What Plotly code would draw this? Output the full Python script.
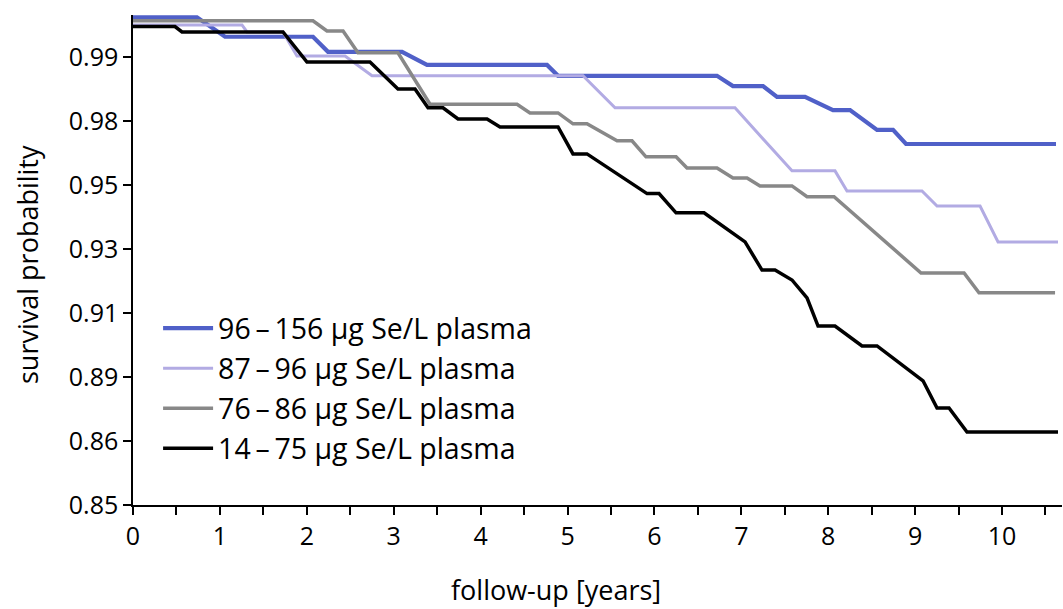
import plotly.graph_objects as go

# ---- data (years, survival on the chart's linear scale) ----
blue_t = [0, 0.736, 1.059, 2.071, 2.244, 3.096, 3.383, 4.764, 4.891, 6.720, 6.904, 7.250, 7.411, 7.733, 8.055, 8.251, 8.562, 8.746, 8.895, 10.621]
blue_s = [1.0024, 1.0024, 0.9963, 0.9963, 0.9916, 0.9916, 0.9875, 0.9875, 0.9841, 0.9841, 0.9809, 0.9809, 0.9775, 0.9775, 0.9734, 0.9734, 0.9672, 0.9672, 0.9628, 0.9628]

lilac_t = [0, 1.254, 1.312, 1.726, 1.887, 2.440, 2.750, 5.178, 5.547, 6.927, 7.583, 8.078, 8.216, 9.079, 9.252, 9.747, 9.954, 10.644]
lilac_s = [1.0000, 1.0000, 0.9978, 0.9978, 0.9903, 0.9903, 0.9841, 0.9841, 0.9741, 0.9741, 0.9544, 0.9544, 0.9481, 0.9481, 0.9434, 0.9434, 0.9322, 0.9322]

grey_t = [0, 2.071, 2.232, 2.417, 2.589, 3.049, 3.418, 4.419, 4.568, 4.891, 5.063, 5.224, 5.570, 5.742, 5.903, 6.249, 6.375, 6.720, 6.904, 7.066, 7.215, 7.583, 7.756, 8.067, 9.068, 9.563, 9.735, 10.610]
grey_s = [1.0013, 1.0013, 0.9981, 0.9981, 0.9913, 0.9913, 0.9752, 0.9752, 0.9725, 0.9725, 0.9691, 0.9691, 0.9638, 0.9638, 0.9588, 0.9588, 0.9553, 0.9553, 0.9522, 0.9522, 0.9497, 0.9497, 0.9463, 0.9463, 0.9225, 0.9225, 0.9163, 0.9163]

black_t = [0, 0.483, 0.564, 1.726, 2.002, 2.727, 3.049, 3.245, 3.395, 3.567, 3.740, 4.074, 4.223, 4.891, 5.063, 5.224, 5.915, 6.053, 6.249, 6.571, 7.043, 7.238, 7.388, 7.583, 7.756, 7.883, 8.078, 8.389, 8.562, 9.091, 9.252, 9.390, 9.597, 10.644]
black_s = [0.9995, 0.9995, 0.9978, 0.9978, 0.9884, 0.9884, 0.9800, 0.9800, 0.9741, 0.9741, 0.9706, 0.9706, 0.9681, 0.9681, 0.9597, 0.9597, 0.9473, 0.9473, 0.9413, 0.9413, 0.9322, 0.9234, 0.9234, 0.9203, 0.9147, 0.9059, 0.9059, 0.8997, 0.8997, 0.8888, 0.8803, 0.8803, 0.8728, 0.8728]

series_names = ["96\u2009\u2013\u2009156 µg Se/L plasma", "87\u2009\u2013\u200996 µg Se/L plasma",
                "76\u2009\u2013\u200986 µg Se/L plasma", "14\u2009\u2013\u200975 µg Se/L plasma"]
series_colors = ["#5060C8", "#B2ABE3", "#888888", "#000000"]
series_widths = [4.2, 3, 3.5, 3.5]

y_tickvals = [0.85, 0.87, 0.89, 0.91, 0.93, 0.95, 0.97, 0.99]
y_ticktext = ["0.85", "0.86", "0.89", "0.91", "0.93", "0.95", "0.98", "0.99"]
x_tickvals = list(range(0, 11))

FONT = "Open Sans"
TICK_SIZE = 25
LEGEND_SIZE = 28.5
TITLE_SIZE = 27

fig = go.Figure()
for i, (t, s) in enumerate([(blue_t, blue_s), (lilac_t, lilac_s), (grey_t, grey_s), (black_t, black_s)]):
    fig.add_trace(go.Scatter(
        x=t, y=s, mode="lines", name=series_names[i],
        line=dict(color=series_colors[i], width=series_widths[i]),
        showlegend=True, hoverinfo="skip"))

fig.update_layout(
    width=1063, height=609,
    margin=dict(l=133, r=1, t=15, b=104),
    paper_bgcolor="white", plot_bgcolor="white",
    font=dict(family=FONT, size=TICK_SIZE, color="black"),
    showlegend=True,
    legend=dict(x=0.027, y=0.412, xanchor="left", yanchor="top",
                bgcolor="rgba(0,0,0,0)", font=dict(size=LEGEND_SIZE, family=FONT),
                tracegroupgap=0, itemwidth=50),
    xaxis=dict(range=[0, 10.69], tickvals=x_tickvals, ticks="outside", ticklen=8,
               tickwidth=1.5, tickcolor="black", showline=True, linecolor="black",
               linewidth=1.5, showgrid=False, zeroline=False,
               tickfont=dict(size=TICK_SIZE, family=FONT),
               minor=dict(dtick=0.5, tick0=0, ticks="outside", ticklen=8,
                          tickwidth=1.5, tickcolor="black", showgrid=False)),
    yaxis=dict(range=[0.85, 1.0031], tickvals=y_tickvals, ticktext=y_ticktext,
               ticks="outside", ticklen=8, tickwidth=1.5, tickcolor="black",
               showline=True, linecolor="black", linewidth=1.5, showgrid=False,
               zeroline=False, tickfont=dict(size=TICK_SIZE, family=FONT)),
    annotations=[
        dict(text="follow-up [years]", xref="paper", yref="paper", x=(556 - 133) / 929,
             y=-(589 - 505) / 490, xanchor="center", yanchor="middle", showarrow=False,
             font=dict(size=TITLE_SIZE, family=FONT)),
        dict(text="survival probability", xref="paper", yref="paper", x=-(133 - 27) / 929,
             y=(505 - 265) / 490, xanchor="center", yanchor="middle", textangle=-90,
             showarrow=False, font=dict(size=TITLE_SIZE, family=FONT)),
    ],
)

fig.write_html("out.html")
